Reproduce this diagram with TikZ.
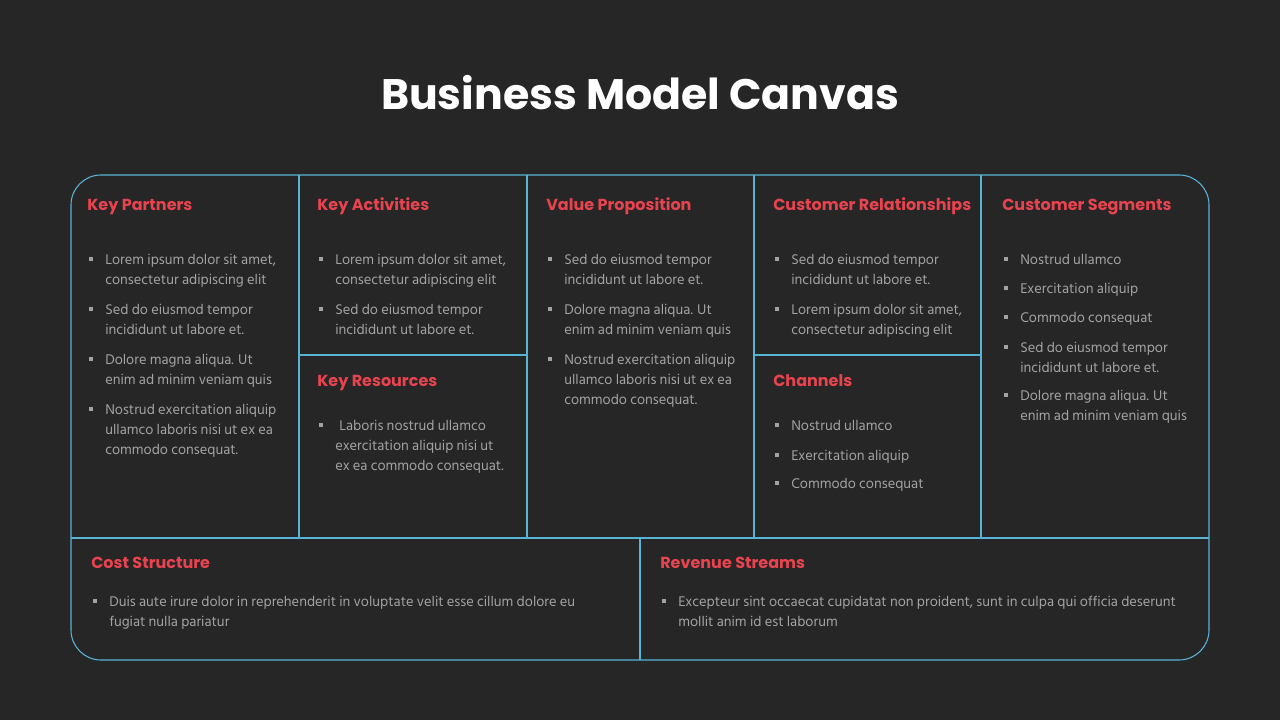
\documentclass[tikz,border=0pt]{standalone}
\usepackage{fontspec}
\setmainfont{Hind Siliguri}
\newfontfamily\popfont{Poppins}
\usepackage{xcolor}
\definecolor{bgdark}{HTML}{262626}
\definecolor{rimblue}{HTML}{58B4D6}
\definecolor{headred}{HTML}{E8434F}
\definecolor{txtgray}{HTML}{A3A3A3}

\tikzset{
  ttl/.style={anchor=base, inner sep=0pt, text=white, font=\popfont\bfseries\fontsize{32}{38}\selectfont},
  head/.style={anchor=base west, inner sep=0pt, text=headred, font=\popfont\bfseries\fontsize{12}{15}\selectfont},
  txt/.style={anchor=base west, inner sep=0pt, text=txtgray, font=\fontsize{10.8}{15}\selectfont},
  rim/.style={draw=rimblue, line width=0.8pt}
}

% bullet item: name, x, baseline of first line, lines
\newcommand{\bitem}[4]{%
  \fill[txtgray] (#2-16,#3-7) rectangle ++(4,4);
  \node[txt] (#1) at (#2,#3) {\begin{tabular}[t]{@{}l@{}}#4\end{tabular}};}

\begin{document}
\begin{tikzpicture}[x=0.75pt, y=-0.75pt]
        \fill[bgdark] (0,0) rectangle (1280,720);

        \coordinate (TL) at (71,175);
        \coordinate (BR) at (1209,660);

        \node[ttl] (title) at (640,110) {Business Model Canvas};

        % frame and grid
        \draw[rim, rounded corners=22.5pt] (TL) rectangle (BR);
        \draw[rim] (71,538) -- (1209,538);
        \foreach \x in {299,527,754,981}
            \draw[rim] (\x,175) -- (\x,538);
        \draw[rim] (640,538) -- (640,660);
        \draw[rim] (299,355) -- (527,355);
        \draw[rim] (754,355) -- (981,355);

        % headings
        \node[head] (kp) at (87,211) {Key Partners};
        \node[head] (ka) at (317,211) {Key Activities};
        \node[head] (kr) at (317,386) {Key Resources};
        \node[head] (vp) at (546,211) {Value Proposition};
        \node[head] (cr) at (773,211) {Customer Relationships};
        \node[head] (ch) at (773,386) {Channels};
        \node[head] (cs) at (1002,211) {Customer Segments};
        \node[head] (cost) at (91,568) {Cost Structure};
        \node[head] (rev) at (660,568) {Revenue Streams};

        % key partners
        \bitem{kp1}{105}{264}{Lorem ipsum dolor sit amet,\\consectetur adipiscing elit}
        \bitem{kp2}{105}{314}{Sed do eiusmod tempor\\incididunt ut labore et.}
        \bitem{kp3}{105}{364}{Dolore magna aliqua. Ut\\enim ad minim veniam quis}
        \bitem{kp4}{105}{414}{Nostrud exercitation aliquip\\ullamco laboris nisi ut ex ea\\commodo consequat.}

        % key activities / resources
        \bitem{ka1}{335}{264}{Lorem ipsum dolor sit amet,\\consectetur adipiscing elit}
        \bitem{ka2}{335}{314}{Sed do eiusmod tempor\\incididunt ut labore et.}
        \bitem{kr1}{335}{430}{\hspace{3pt}Laboris nostrud ullamco\\exercitation aliquip nisi ut\\ex ea commodo consequat.}

        % value proposition
        \bitem{vp1}{564}{264}{Sed do eiusmod tempor\\incididunt ut labore et.}
        \bitem{vp2}{564}{314}{Dolore magna aliqua. Ut\\enim ad minim veniam quis}
        \bitem{vp3}{564}{364}{Nostrud exercitation aliquip\\ullamco laboris nisi ut ex ea\\commodo consequat.}

        % customer relationships / channels
        \bitem{cr1}{791}{264}{Sed do eiusmod tempor\\incididunt ut labore et.}
        \bitem{cr2}{791}{314}{Lorem ipsum dolor sit amet,\\consectetur adipiscing elit}
        \bitem{ch1}{791}{430}{Nostrud ullamco}
        \bitem{ch2}{791}{460}{Exercitation aliquip}
        \bitem{ch3}{791}{488}{Commodo consequat}

        % customer segments
        \bitem{cs1}{1020}{264}{Nostrud ullamco}
        \bitem{cs2}{1020}{293}{Exercitation aliquip}
        \bitem{cs3}{1020}{322}{Commodo consequat}
        \bitem{cs4}{1020}{352}{Sed do eiusmod tempor\\incididunt ut labore et.}
        \bitem{cs5}{1020}{400}{Dolore magna aliqua. Ut\\enim ad minim veniam quis}

        % cost structure / revenue streams
        \bitem{cost1}{109}{606}{Duis aute irure dolor in reprehenderit in voluptate velit esse cillum dolore eu\\fugiat nulla pariatur}
        \bitem{rev1}{678}{606}{Excepteur sint occaecat cupidatat non proident, sunt in culpa qui officia deserunt\\mollit anim id est laborum}
\end{tikzpicture}
\end{document}
